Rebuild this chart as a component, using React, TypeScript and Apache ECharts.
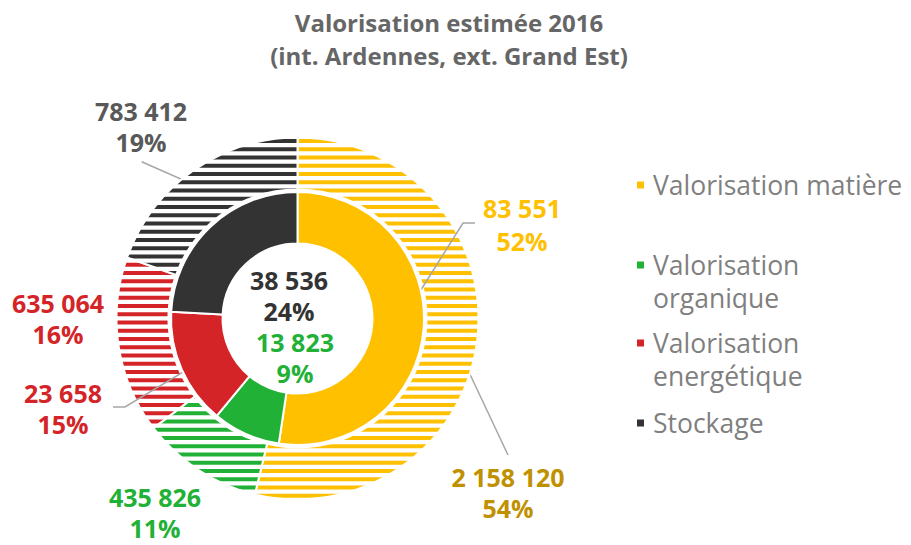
import React, { useEffect, useRef } from 'react';
import * as echarts from 'echarts';

// ---- data ----
const categories = ['Valorisation matière', 'Valorisation organique', 'Valorisation energétique', 'Stockage'];
const innerValues = [83551, 13823, 23658, 38536]; // int. Ardennes
const innerPercents = [52, 9, 15, 24];
const outerValues = [2158120, 435826, 635064, 783412]; // ext. Grand Est
const outerPercents = [54, 11, 16, 19];
const legendLabels = [
  ['Valorisation matière'],
  ['Valorisation', 'organique'],
  ['Valorisation', 'energétique'],
  ['Stockage'],
];
const titleLines = ['Valorisation estimée 2016', '(int. Ardennes, ext. Grand Est)'];

// ---- styles / layout ----
const fillColors = ['#FFC000', '#21B136', '#D42428', '#333333'];
const innerLabelColors = ['#FFC000', '#21B136', '#D42428', '#333333'];
const outerLabelColors = ['#BF9000', '#21B136', '#D42428', '#595959'];
const CX = 297.5;
const CY = 318.5;
const innerLabelPos = [[522, 224], [295, 357.5], [63, 408], [289, 295.5]];
const innerLineHeights = [33, 31, 31, 31];
const outerLabelPos = [[508, 492.5], [155, 512], [58, 318], [141, 126]];
const outerLineHeights = [31, 31, 31, 31];
// leader line tails (after the start point on the sector)
const innerLeaderTail: (number[][] | null)[] = [[[463, 223], [475, 223]], null, [[125, 407], [113, 407]], null];
const outerLeaderTail: (number[][] | null)[] = [[[508, 455]], null, null, [[141.7, 161.7]]];
const legendCenters = [185, 265, 343, 423];

const fmt = (v: number) => String(v).replace(/\B(?=(\d{3})+(?!\d))/g, ' ');

function midPoint(values: number[], i: number, r: number) {
  const total = values.reduce((a, b) => a + b, 0);
  let before = 0;
  for (let k = 0; k < i; k++) before += values[k];
  const a = ((before + values[i] / 2) / total) * Math.PI * 2;
  return [CX + r * Math.sin(a), CY - r * Math.cos(a)];
}

function makeStripe(color: string) {
  const c = document.createElement('canvas');
  c.width = 4;
  c.height = 33;
  const ctx = c.getContext('2d')!;
  ctx.fillStyle = '#ffffff';
  ctx.fillRect(0, 0, 4, 33);
  ctx.fillStyle = color;
  for (let k = -1; k < 5; k++) {
    ctx.fillRect(0, 7 + 8.25 * k, 4, 4);
  }
  return c;
}

export default function App() {
  const ref = useRef<HTMLDivElement>(null);
  useEffect(() => {
    const chart = echarts.init(ref.current!, null, { renderer: 'svg' });
    const labelFont = {
      fontFamily: 'Open Sans',
      fontWeight: 'bold' as const,
      fontSize: 25,
      lineHeight: 31,
    };
    const legends = categories.map((name, i) => {
      const lines = legendLabels[i];
      const text = lines.length > 1 ? [' ', ...lines].join('\n') : lines[0];
      const blockH = (lines.length > 1 ? 3 : 1) * 33;
      return {
        data: [name],
        orient: 'vertical',
        left: 635,
        top: legendCenters[i] - blockH / 2,
        padding: 0,
        icon: 'rect',
        itemWidth: 9,
        itemHeight: 9,
        selectedMode: false,
        formatter: () => text,
        textStyle: {
          fontFamily: 'Open Sans',
          fontSize: 26.5,
          lineHeight: 33,
          color: '#7F7F7F',
          padding: [0, 0, 0, 3],
        },
      };
    });

    const option: any = {
      animation: false,
      backgroundColor: '#ffffff',
      title: {
        text: titleLines.join('\n'),
        left: 449,
        top: 5.5,
        padding: 0,
        textAlign: 'center',
        textVerticalAlign: 'top',
        textStyle: {
          fontFamily: 'Open Sans',
          fontWeight: 'bold',
          fontSize: 24,
          lineHeight: 33,
          color: '#666666',
        },
      },
      legend: legends,
      series: [
        {
          name: 'int. Ardennes',
          type: 'pie',
          z: 3,
          center: [CX, CY],
          radius: [75, 126.5],
          startAngle: 90,
          clockwise: true,
          silent: true,
          avoidLabelOverlap: false,
          emphasis: { disabled: true },
          itemStyle: { borderColor: '#ffffff', borderWidth: 2 },
          label: {
            show: true,
            position: 'outside',
            ...labelFont,
            formatter: (p: any) => `${fmt(p.value)}\n${innerPercents[p.dataIndex]}%`,
          },
          labelLine: { show: true, lineStyle: { color: '#A6A6A6', width: 1.5 } },
          labelLayout: (p: any) => {
            const i = p.dataIndex;
            const res: any = { x: innerLabelPos[i][0], y: innerLabelPos[i][1], align: 'center', verticalAlign: 'middle' };
            const tail = innerLeaderTail[i];
            if (tail) res.labelLinePoints = [midPoint(innerValues, i, 101), ...tail];
            return res;
          },
          data: categories.map((name, i) => ({
            name,
            value: innerValues[i],
            itemStyle: { color: fillColors[i] },
            label: { color: innerLabelColors[i], lineHeight: innerLineHeights[i] },
            labelLine: { show: !!innerLeaderTail[i] },
          })),
        },
        {
          name: 'ext. Grand Est',
          type: 'pie',
          z: 2,
          center: [CX, CY],
          radius: [129, 181],
          startAngle: 90,
          clockwise: true,
          silent: true,
          avoidLabelOverlap: false,
          emphasis: { disabled: true },
          itemStyle: { borderColor: '#ffffff', borderWidth: 2 },
          label: {
            show: true,
            position: 'outside',
            ...labelFont,
            formatter: (p: any) => `${fmt(p.value)}\n${outerPercents[p.dataIndex]}%`,
          },
          labelLine: { show: true, lineStyle: { color: '#A6A6A6', width: 1.5 } },
          labelLayout: (p: any) => {
            const i = p.dataIndex;
            const res: any = { x: outerLabelPos[i][0], y: outerLabelPos[i][1], align: 'center', verticalAlign: 'middle' };
            const tail = outerLeaderTail[i];
            if (tail) res.labelLinePoints = [midPoint(outerValues, i, 156), ...tail];
            return res;
          },
          data: categories.map((name, i) => ({
            name,
            value: outerValues[i],
            itemStyle: { color: { image: makeStripe(fillColors[i]), repeat: 'repeat' } },
            label: { color: outerLabelColors[i], lineHeight: outerLineHeights[i] },
            labelLine: { show: !!outerLeaderTail[i] },
          })),
        },
      ],
    };
    chart.setOption(option);
    return () => chart.dispose();
  }, []);
  return (
    <div
      ref={ref}
      style={{ position: 'fixed', left: 0, top: 0, width: 911, height: 545, background: '#ffffff' }}
    />
  );
}
